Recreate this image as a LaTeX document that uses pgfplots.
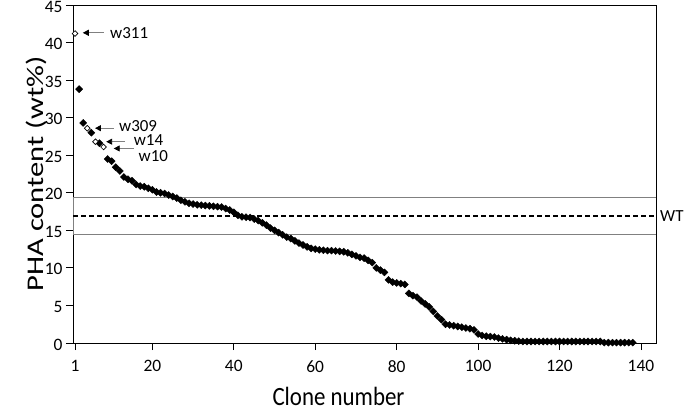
\documentclass[border=0pt]{standalone}
\usepackage{fontspec}
\setmainfont{Carlito}
\usepackage{pgfplots}
\pgfplotsset{compat=1.18}
\usetikzlibrary{arrows.meta, calc}

% clone number vs PHA content (wt%), sorted
\pgfplotstableread{
n y
2 33.8
3 29.3
5 28.0
7 26.6
9 24.5
10 24.2
11 23.4
12 22.9
13 22.1
14 21.8
15 21.6
16 21.1
17 20.9
18 20.8
19 20.6
20 20.4
21 20.1
22 20.0
23 19.9
24 19.7
25 19.5
26 19.3
27 19.0
28 18.8
29 18.6
30 18.5
31 18.4
32 18.35
33 18.3
34 18.25
35 18.2
36 18.15
37 18.1
38 17.9
39 17.7
40 17.4
41 17.0
42 16.8
43 16.75
44 16.7
45 16.5
46 16.3
47 16.0
48 15.7
49 15.3
50 15.0
51 14.7
52 14.4
53 14.1
54 13.9
55 13.6
56 13.3
57 13.05
58 12.8
59 12.6
60 12.5
61 12.4
62 12.35
63 12.3
64 12.3
65 12.25
66 12.2
67 12.15
68 12.0
69 11.8
70 11.6
71 11.4
72 11.3
73 11.0
74 10.7
75 10.0
76 9.7
77 9.4
78 8.4
79 8.1
80 8.0
81 7.9
82 7.8
83 6.6
84 6.3
85 6.1
86 5.6
87 5.2
88 4.8
89 4.2
90 3.6
91 3.1
92 2.5
93 2.4
94 2.3
95 2.2
96 2.1
97 2.0
98 1.9
99 1.75
100 1.2
101 1.0
102 0.9
103 0.85
104 0.8
105 0.65
106 0.55
107 0.45
108 0.35
109 0.3
110 0.25
111 0.2
112 0.2
113 0.2
114 0.2
115 0.2
116 0.2
117 0.2
118 0.2
119 0.2
120 0.2
121 0.2
122 0.2
123 0.2
124 0.2
125 0.2
126 0.2
127 0.2
128 0.2
129 0.2
130 0.2
131 0.05
132 0.05
133 0.05
134 0.05
135 0.05
136 0.05
137 0.05
138 0.05
}\clones

\pgfplotstableread{
n y
1 41.2
4 28.6
6 26.8
8 26.1
}\picked

\begin{document}
\begin{tikzpicture}
\begin{axis}[
  scale only axis,
  width=583bp, height=338bp,
  xmin=0.5, xmax=143.7,
  ymin=0, ymax=45,
  xtick={1,20,40,60,80,100,120,140},
  ytick={0,5,...,45},
  tick align=outside,
  xtick pos=left, ytick pos=left,
  major tick length=7bp,
  tick style={black, line width=0.8bp},
  axis line style={line width=0.8bp},
  /pgf/number format/assume math mode=true,
  ticklabel style={font=\fontsize{17.5}{20}\selectfont},
  xticklabel style={yshift=-7bp},
  yticklabel style={yshift=-1.5bp},
  xlabel={Clone number},
  ylabel={PHA content (wt\%)},
  xlabel style={font=\fontsize{23}{26}\selectfont, yscale=1.15,
    at={(axis description cs:0.4554,-0.157)}, anchor=center},
  ylabel style={font=\fontsize{24}{28}\selectfont, xscale=1.28,
    at={(axis description cs:-0.0626,0.5)}, anchor=center},
  clip=false,
]
% WT band
\addplot[draw=gray, line width=0.8bp] coordinates {(0.5,19.35) (143.7,19.35)};
\addplot[draw=gray, line width=0.8bp] coordinates {(0.5,14.4) (143.7,14.4)};
\addplot[draw=gray, line width=0.8bp] coordinates {(0.5,14.4) (0.5,19.35)};
\addplot[black, line width=1.6bp, dash pattern=on 5bp off 3bp] coordinates {(0.5,16.9) (143.7,16.9)};

\addplot[only marks, mark=square*, mark size=2.5bp,
  mark options={rotate=45, fill=black, draw=black}] table[x=n, y=y] {\clones};
\addplot[only marks, mark=square*, mark size=2.0bp,
  mark options={rotate=45, fill=white, draw=black, line width=0.7bp}] table[x=n, y=y] {\picked};

% labels for picked clones
\begin{scope}[every node/.style={font=\fontsize{17}{19}\selectfont, anchor=west, inner sep=0pt}]
\draw[gray, line width=0.9bp, -{Triangle[length=6bp, width=6bp, black]}] (axis cs:8.0,41.3) -- (axis cs:2.9,41.3);
\node at (axis cs:9.6,41.3) {w311};
\draw[gray, line width=0.9bp, -{Triangle[length=6bp, width=6bp, black]}] (axis cs:10.5,28.6) -- (axis cs:5.9,28.6);
\node at (axis cs:11.8,28.85) {w309};
\draw[gray, line width=0.9bp, -{Triangle[length=6bp, width=6bp, black]}] (axis cs:13.3,26.8) -- (axis cs:8.65,26.8);
\node at (axis cs:15.4,27.0) {w14};
\draw[gray, line width=0.9bp, -{Triangle[length=6bp, width=6bp, black]}] (axis cs:15.4,25.9) -- (axis cs:10.5,25.9);
\node at (axis cs:16.6,24.95) {w10};
\node at (axis cs:143.7,16.9) [xshift=4bp] {WT};
\end{scope}
\end{axis}
\pgfresetboundingbox
\path ($(current axis.south west)+(-73bp,-69bp)$) rectangle ($(current axis.north east)+(29bp,5bp)$);
\end{tikzpicture}
\end{document}
